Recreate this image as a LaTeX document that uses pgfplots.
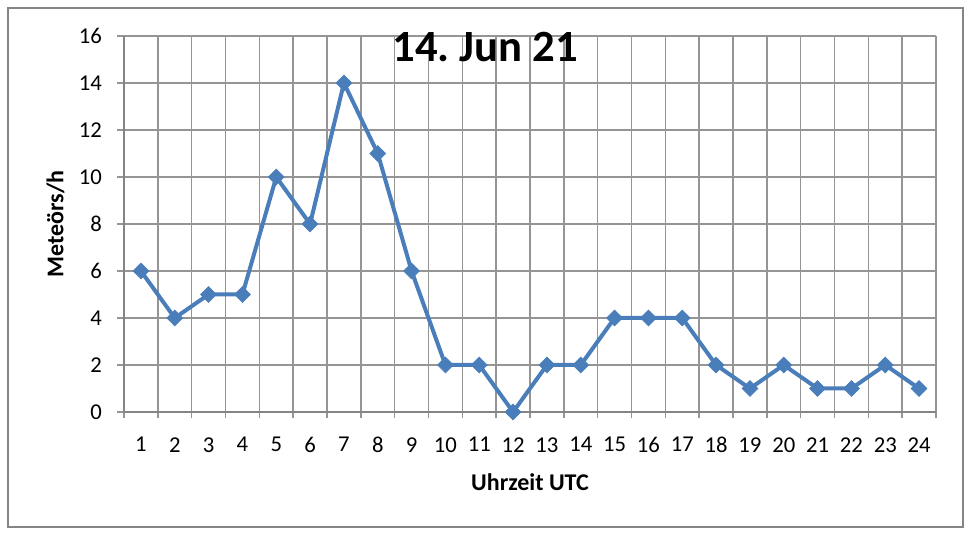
\documentclass[border=0pt]{standalone}
\usepackage{pgfplots}
\pgfplotsset{compat=1.18}
\usepackage{fontspec}
\setmainfont{Carlito}
\frenchspacing
\definecolor{lineblue}{HTML}{4A7EBB}
\definecolor{gridgray}{HTML}{959595}
\definecolor{axisgray}{HTML}{858585}
\begin{document}
\begin{tikzpicture}[x=0.75pt,y=0.75pt]
\useasboundingbox (-124,-122) rectangle (847,412);
\begin{axis}[
  at={(0,0)}, anchor=south west,
  scale only axis,
  width=609pt, height=282pt,
  xmin=0.5, xmax=24.5, ymin=0, ymax=16,
  xtick={1,...,24},
  xticklabels={1,2,3,4,5,6,7,8,9,10,11,12,13,14,15,16,17,18,19,20,21,22,23,24},
  minor xtick={0.5,1.5,...,24.5},
  ytick={0,2,4,6,8,10,12,14,16},
  yticklabels={0,2,4,6,8,10,12,14,16},
  major x tick style={draw=none},
  xmajorgrids=false, xminorgrids=true, ymajorgrids=true,
  grid style={gridgray, line width=1.1pt},
  minor grid style={gridgray, line width=1.1pt},
  axis line style={axisgray, line width=1.8pt},
  axis x line*=bottom, axis y line*=left,
  tick align=outside,
  major tick length=5pt, minor tick length=4.5pt,
  tick style={gridgray, line width=1.1pt},
  /pgf/number format/assume math mode=true,
  every tick label/.append style={font=\fontsize{17}{20}\selectfont},
  xticklabel style={yshift=-10.5pt},
  yticklabel style={xshift=-8pt},
  xlabel={Uhrzeit UTC},
  ylabel={Meteörs/h},
  label style={font=\bfseries\fontsize{18}{21}\selectfont},
  xlabel style={at={(axis description cs:0.5,-0.186)}, anchor=center},
  ylabel style={at={(axis description cs:-0.0845,0.5)}, anchor=center, rotate=0},
  title={14. Jun 21},
  title style={at={(axis description cs:0.445,0.949)}, anchor=center, font=\bfseries\fontsize{33.5}{38}\selectfont},
  clip=false,
]
\addplot[lineblue, line width=3pt, mark=square*, mark size=4.2pt,
  mark options={rotate=45, fill=lineblue, draw=lineblue, line width=0.5pt}]
  coordinates {
  (1,6) (2,4) (3,5) (4,5) (5,10) (6,8) (7,14) (8,11) (9,6) (10,2)
  (11,2) (12,0) (13,2) (14,2) (15,4) (16,4) (17,4) (18,2) (19,1) (20,2)
  (21,1) (22,1) (23,2) (24,1)
  };
\end{axis}
\draw[axisgray, line width=1.2pt] (-116,-115) rectangle (839,404);
\end{tikzpicture}
\end{document}
